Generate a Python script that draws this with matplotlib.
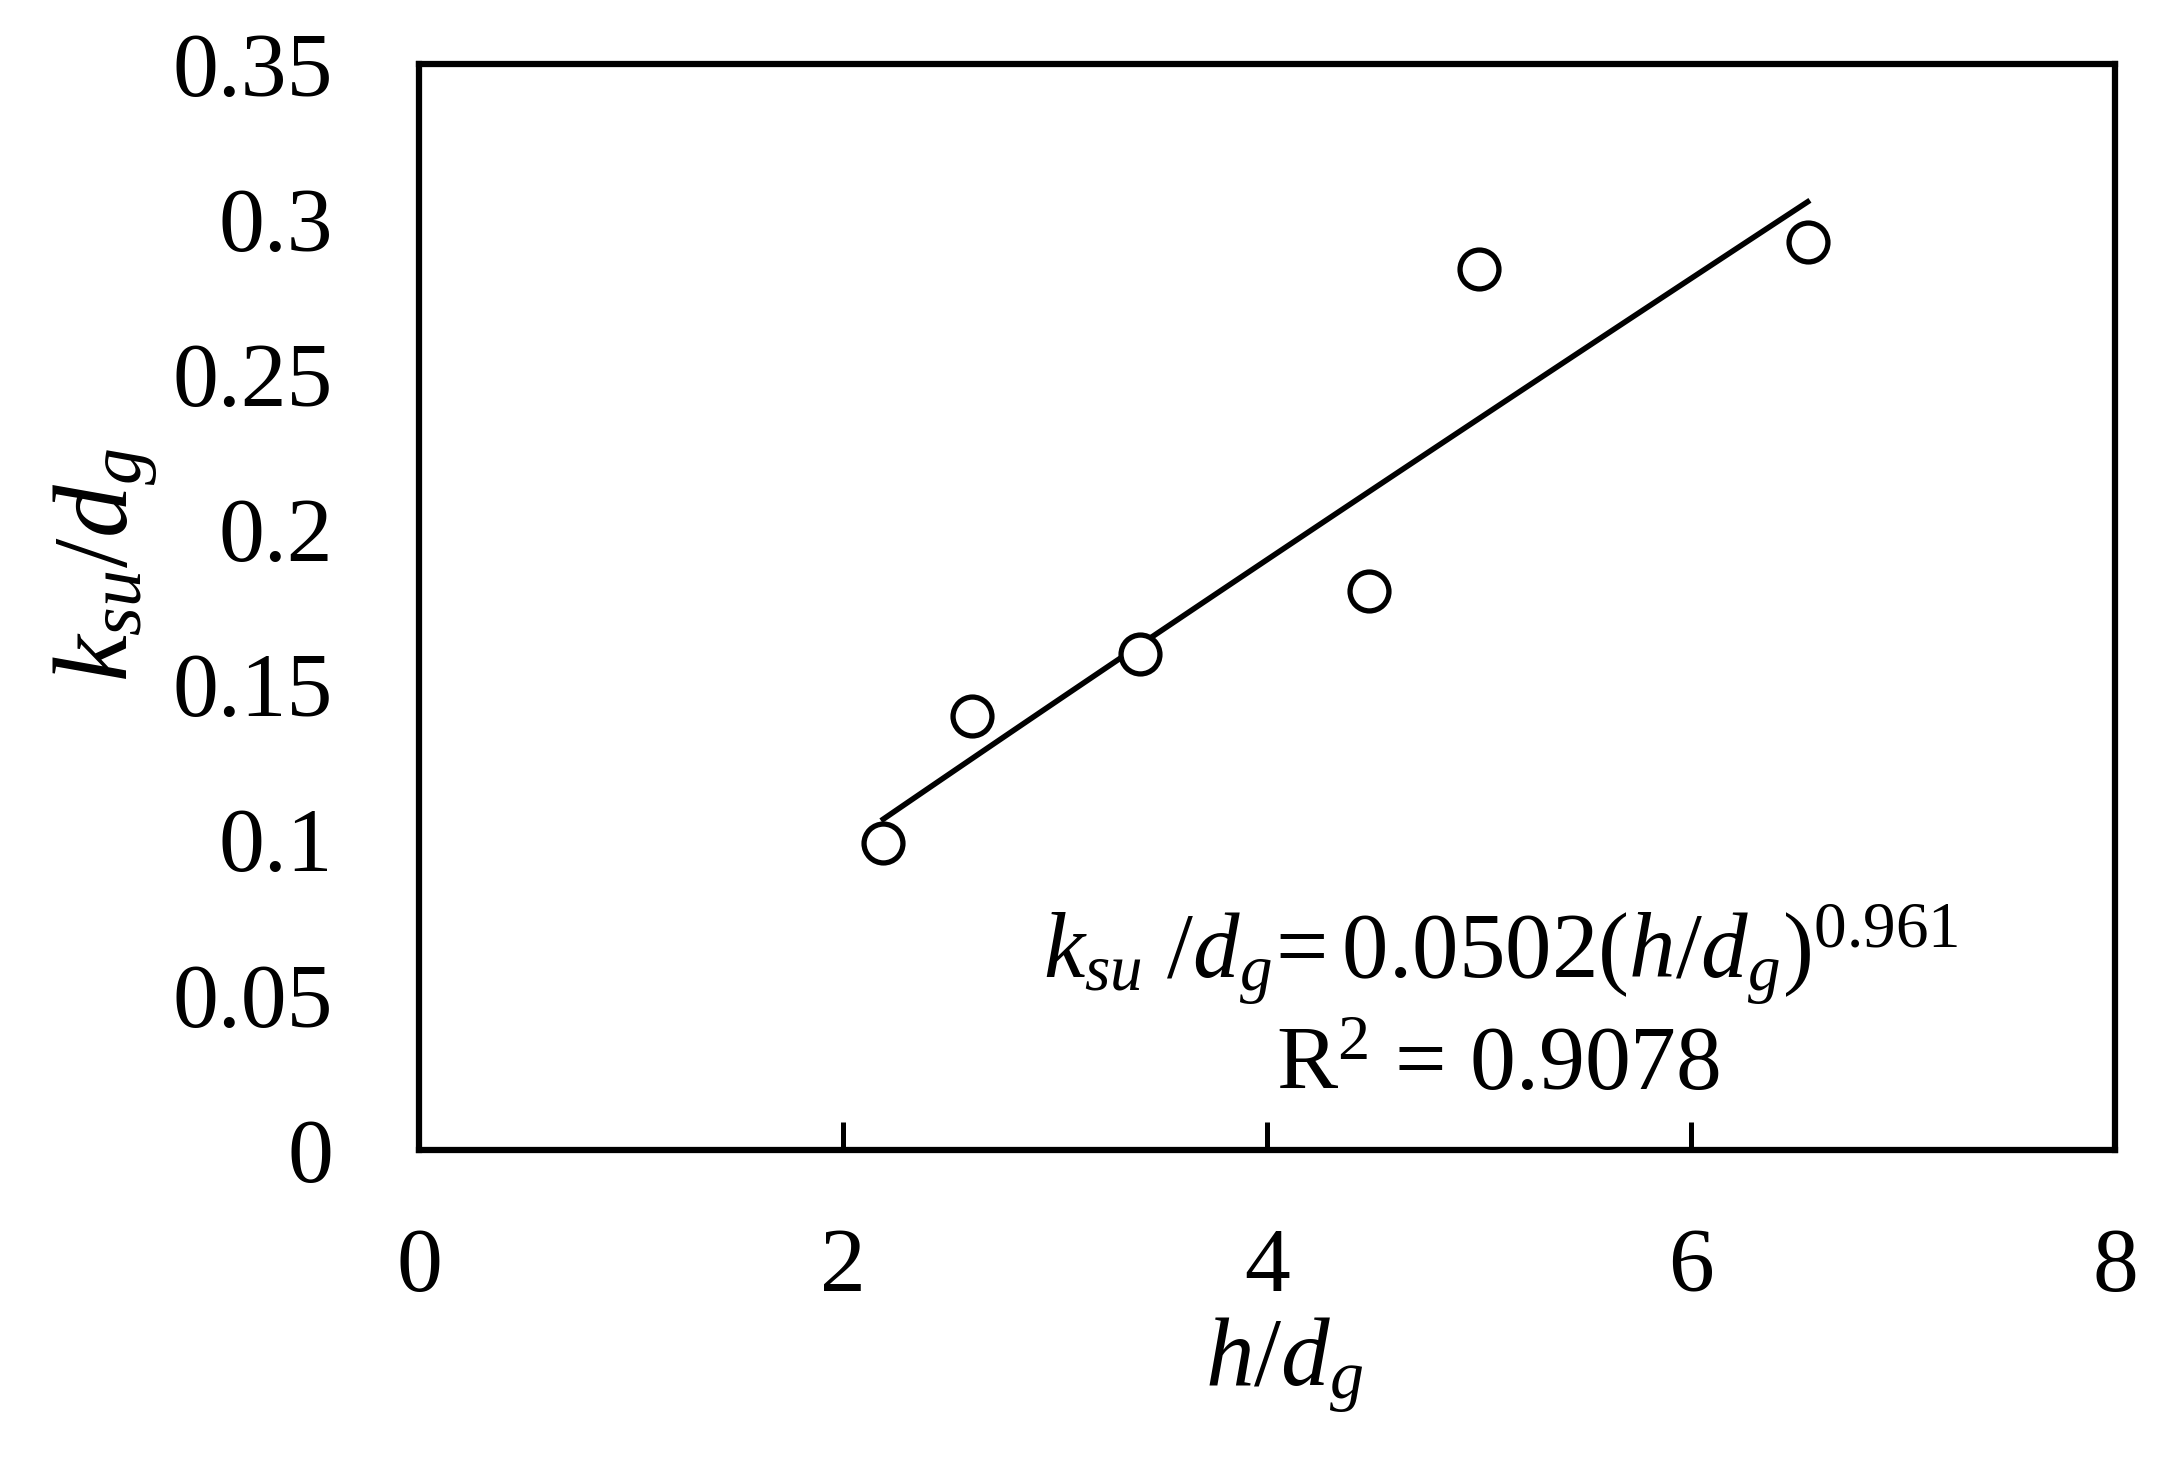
import numpy as np
import matplotlib
matplotlib.use('Agg')
import matplotlib.pyplot as plt

plt.rcParams['font.family'] = ['Liberation Serif', 'DejaVu Serif']
plt.rcParams['mathtext.fontset'] = 'custom'
plt.rcParams['mathtext.rm'] = 'Liberation Serif'
plt.rcParams['mathtext.it'] = 'Liberation Serif:italic'

# measured points h/dg vs ksu/dg
h_dg = [2.19, 2.61, 3.40, 4.48, 5.00, 6.55]
ksu_dg = [0.099, 0.140, 0.160, 0.180, 0.284, 0.2925]

# power fit reported on the chart
fit_a = 0.0502
fit_b = 0.961
r2 = 0.9078

x_ticks = [0, 2, 4, 6, 8]
y_ticks = [0, 0.05, 0.1, 0.15, 0.2, 0.25, 0.3, 0.35]
y_tick_labels = ['0', '0.05', '0.1', '0.15', '0.2', '0.25', '0.3', '0.35']

fig = plt.figure(figsize=(21.77, 14.59), dpi=100)
ax = fig.add_axes([419 / 2177, 1 - 1150 / 1459, (2115 - 419) / 2177, (1150 - 64) / 1459])

xf = np.linspace(min(h_dg), max(h_dg), 50)
ax.plot(xf, fit_a * xf ** fit_b, color='k', lw=4, zorder=2)
ax.plot(h_dg, ksu_dg, ls='none', marker='o', ms=28, mfc='white', mec='k', mew=3.8, zorder=3)

ax.set_xlim(0, 8)
ax.set_ylim(0, 0.35)
ax.set_xticks(x_ticks)
ax.set_xticklabels([str(t) for t in x_ticks])
ax.set_yticks(y_ticks)
ax.set_yticklabels(y_tick_labels)

ax.tick_params(axis='x', direction='in', length=20, width=3.6, pad=56, labelsize=66)
ax.tick_params(axis='y', length=0, pad=62, labelsize=66)
for s in ax.spines.values():
    s.set_linewidth(4.5)

ax.set_xlabel(r'$h/d_g$', fontsize=70)
ax.xaxis.set_label_coords(0.51, -0.152)
ax.xaxis.label.set_va('top')
ax.set_ylabel(r'$k_{su}/d_g$', fontsize=76)
ax.yaxis.set_label_coords(-0.153, 0.539)

ax.text(0.638, 0.158, r'$k_{su}\ /d_g\!=\mathrm{%.4f}(h/d_g)^{\mathrm{%.3f}}$' % (fit_a, fit_b),
        transform=ax.transAxes, ha='center', va='baseline', fontsize=67)
ax.text(0.636, 0.055, r'R$^2$ = %.4f' % r2,
        transform=ax.transAxes, ha='center', va='baseline', fontsize=66)

plt.savefig('out.png', dpi=100)
plt.close()
